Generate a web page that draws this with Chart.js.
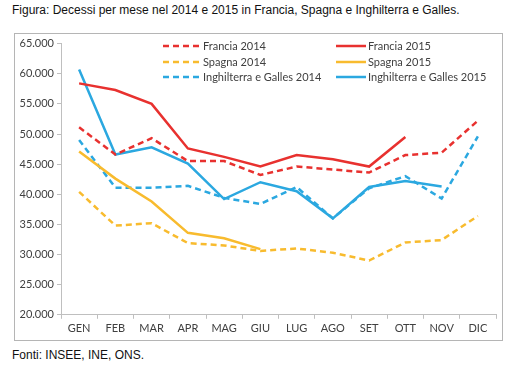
<!DOCTYPE html>
<html>
<head>
<meta charset="utf-8">
<script src="https://cdn.jsdelivr.net/npm/chart.js@4/dist/chart.umd.min.js"></script>
<style>
  body { margin: 0; background: #fff; font-family: "Liberation Sans", Arial, sans-serif; }
  #title { position: absolute; left: 12px; top: 3px; font-size: 12px; color: #111; }
  #box { position: absolute; left: 14px; top: 33px; width: 487px; height: 306px; border: 1px solid #b5b5b5; }
  #note { position: absolute; left: 12px; top: 348px; font-size: 12px; color: #111; }
</style>
</head>
<body>
<div id="title">Figura: Decessi per mese nel 2014 e 2015 in Francia, Spagna e Inghilterra e Galles.</div>
<div id="box"><canvas id="c" width="487" height="306"></canvas></div>
<div id="note">Fonti: INSEE, INE, ONS.</div>
<script>
const months = ['GEN', 'FEB', 'MAR', 'APR', 'MAG', 'GIU', 'LUG', 'AGO', 'SET', 'OTT', 'NOV', 'DIC'];

const francia2014 = [51100, 46600, 49300, 45500, 45500, 43200, 44600, 44100, 43600, 46500, 46900, 52200];
const francia2015 = [58400, 57300, 55000, 47600, 46200, 44600, 46500, 45800, 44600, 49500];
const spagna2014 = [40400, 34800, 35200, 31900, 31500, 30600, 31000, 30300, 29000, 32000, 32400, 36400];
const spagna2015 = [47100, 42600, 38800, 33600, 32700, 30900];
const ieg2014 = [49000, 41100, 41100, 41400, 39400, 38400, 41200, 36000, 41000, 43000, 39300, 49600];
const ieg2015 = [60700, 46600, 47800, 45100, 39200, 42000, 40500, 36000, 41200, 42200, 41300];

const red = '#e8312f', orange = '#f8bb2e', blue = '#2ba8e0';
const dash = [6, 4];
const tickFont = { family: 'Lato, "Open Sans", sans-serif', size: 11 };

function line(label, data, color, dashed) {
    return {
        label: label,
        data: data,
        borderColor: color,
        backgroundColor: color,
        borderWidth: 2.5,
        borderDash: dashed ? dash : [],
        pointRadius: 0,
        tension: 0,
        fill: false
    };
}

// legend drawn as 3 rows x 2 columns, like the original
const gridLegend = {
    id: 'gridLegend',
    afterDraw(chart) {
        const ctx = chart.ctx;
        const cols = [{ x: 148, len: 38 }, { x: 321, len: 30 }];
        const rows = [12, 28, 43];
        ctx.save();
        ctx.font = '11px Lato, "Open Sans", sans-serif';
        ctx.textBaseline = 'middle';
        chart.data.datasets.forEach((ds, i) => {
            const col = cols[i % 2];
            const y = rows[Math.floor(i / 2)];
            ctx.strokeStyle = ds.borderColor;
            ctx.lineWidth = 2.5;
            ctx.setLineDash(ds.borderDash);
            ctx.beginPath();
            ctx.moveTo(col.x, y);
            ctx.lineTo(col.x + col.len, y);
            ctx.stroke();
            ctx.setLineDash([]);
            ctx.fillStyle = '#404040';
            ctx.fillText(ds.label, col.x + col.len + 2, y);
        });
        ctx.restore();
    }
};

new Chart(document.getElementById('c'), {
    type: 'line',
    data: {
        labels: months,
        datasets: [
            line('Francia 2014', francia2014, red, true),
            line('Francia 2015', francia2015, red, false),
            line('Spagna 2014', spagna2014, orange, true),
            line('Spagna 2015', spagna2015, orange, false),
            line('Inghilterra e Galles 2014', ieg2014, blue, true),
            line('Inghilterra e Galles 2015', ieg2015, blue, false)
        ]
    },
    options: {
        responsive: false,
        animation: false,
        layout: { padding: { top: 9, right: 6, left: 0, bottom: 2 } },
        plugins: { legend: { display: false }, tooltip: { enabled: false } },
        scales: {
            x: {
                offset: true,
                grid: { offset: true, drawOnChartArea: false, drawTicks: true, tickLength: 4, color: '#bfbfbf' },
                border: { color: '#bfbfbf' },
                ticks: { color: '#404040', font: tickFont, padding: 3, maxRotation: 0 }
            },
            y: {
                min: 20000,
                max: 65000,
                afterFit: s => { s.width = 46; },
                grid: { drawOnChartArea: false, drawTicks: true, tickLength: 4, color: '#bfbfbf' },
                border: { color: '#bfbfbf' },
                ticks: {
                    stepSize: 5000,
                    color: '#404040',
                    padding: 3,
                    font: tickFont,
                    callback: v => (v / 1000).toFixed(3)
                }
            }
        }
    },
    plugins: [gridLegend]
});
</script>
</body>
</html>
